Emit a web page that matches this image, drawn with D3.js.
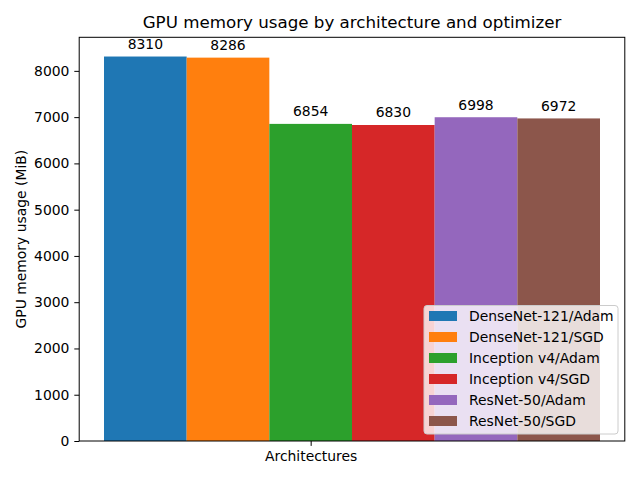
<!DOCTYPE html>
<html><head><meta charset="utf-8">
<script src="https://cdn.jsdelivr.net/npm/d3@7"></script>
<style>body{margin:0;background:#fff}svg{display:block;font-family:"DejaVu Sans",sans-serif}</style>
</head><body><svg id="c" width="640" height="480"></svg>
<script>
const seriesNames = ["DenseNet-121/Adam","DenseNet-121/SGD","Inception v4/Adam","Inception v4/SGD","ResNet-50/Adam","ResNet-50/SGD"];
const seriesValues = [8310, 8286, 6854, 6830, 6998, 6972];
const seriesColors = ["#1f77b4","#ff7f0e","#2ca02c","#d62728","#9467bd","#8c564b"];
const categories = ["Architectures"];
const yTicks = [0,1000,2000,3000,4000,5000,6000,7000,8000];

const svg = d3.select("#c");
const L = 79.2, R = 624.8, T = 37.3, B = 441;
const w = 1; // bar width in data units
const x = d3.scaleLinear().domain([-2.8, 3.8]).range([L, R]);
const y = d3.scaleLinear().domain([0, 8310*1.05]).range([B, T]);
const fs = 13.9;

// bars
svg.append("g").selectAll("rect").data(seriesValues).join("rect")
  .attr("x", (d,i) => x((i-2) - w/2))
  .attr("width", (d,i) => x((i-2) + w/2) - x((i-2) - w/2))
  .attr("y", d => y(d))
  .attr("height", d => B - y(d))
  .attr("fill", (d,i) => seriesColors[i]);

// value labels
svg.append("g").selectAll("text").data(seriesValues).join("text")
  .attr("x", (d,i) => x(i-2))
  .attr("y", d => y(d) - 7.5)
  .attr("text-anchor","middle")
  .attr("font-size", fs)
  .attr("fill","#000")
  .text(d => d);

// axes
const yAxis = d3.axisLeft(y).tickValues(yTicks).tickSize(4.9).tickPadding(4.9).tickFormat(d3.format("d"));
const gy = svg.append("g").attr("transform",`translate(${L},0)`).call(yAxis);
gy.select(".domain").remove();
gy.selectAll("text").attr("font-size", fs).attr("font-family","DejaVu Sans").attr("fill","#000");
gy.selectAll("line").attr("stroke","#000").attr("stroke-width",1);

const xAxis = d3.axisBottom(x).tickValues([0]).tickSize(4.9).tickPadding(4.9).tickFormat(() => categories[0]);
const gx = svg.append("g").attr("transform",`translate(0,${B})`).call(xAxis);
gx.select(".domain").remove();
gx.selectAll("text").attr("font-size", fs).attr("font-family","DejaVu Sans").attr("fill","#000");
gx.selectAll("line").attr("stroke","#000");

// spines
svg.append("rect").attr("x",L).attr("y",T).attr("width",R-L).attr("height",B-T)
  .attr("fill","none").attr("stroke","#000").attr("stroke-width",1);

// title
svg.append("text").attr("x",(L+R)/2).attr("y",T-9).attr("text-anchor","middle")
  .attr("font-size",16.7).text("GPU memory usage by architecture and optimizer");

// y label
svg.append("text").attr("transform",`translate(26,${(T+B)/2}) rotate(-90)`)
  .attr("text-anchor","middle").attr("font-size",fs).text("GPU memory usage (MiB)");

// legend
const lg = svg.append("g");
const lx = 424, ly = 305.5, lw = 194, lh = 128.5;
lg.append("rect").attr("x",lx).attr("y",ly).attr("width",lw).attr("height",lh)
  .attr("rx",3).attr("fill","#fff").attr("fill-opacity",0.8).attr("stroke","#ccc").attr("stroke-width",1);
const rows = lg.selectAll("g").data(seriesNames).join("g")
  .attr("transform",(d,i)=>`translate(${lx+5},${ly+10.5 + i*21})`);
rows.append("rect").attr("x",0).attr("y",-5).attr("width",28).attr("height",10)
  .attr("fill",(d,i)=>seriesColors[i]);
rows.append("text").attr("x",40).attr("y",5).attr("font-size",fs).attr("fill","#000").text(d=>d);
</script></body></html>
